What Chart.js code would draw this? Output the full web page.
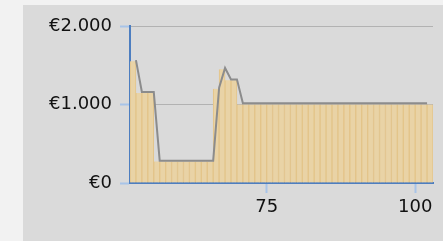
<!DOCTYPE html>
<html>
<head>
<meta charset="utf-8">
<script src="https://cdn.jsdelivr.net/npm/chart.js@4"></script>
<style>
  html, body { margin: 0; padding: 0; background: #f2f2f2; width: 443px; height: 241px; overflow: hidden; }
  #wrap { position: absolute; left: 23px; top: 5px; width: 420px; height: 236px; background: #dadada; }
  canvas { display: block; }
</style>
</head>
<body>
<div id="wrap"><canvas id="c" width="420" height="236"></canvas></div>
<script>
// Category positions (each bar spans the unit ending at its category)
const categories = [53,54,55,56,57,58,59,60,61,62,63,64,65,66,67,68,69,70,71,72,73,74,75,76,77,78,79,80,81,82,83,84,85,86,87,88,89,90,91,92,93,94,95,96,97,98,99,100,101,102,103];
// Bar series values (€)
const barValues = [1550,1145,1145,1145,275,275,275,275,275,275,275,275,275,275,1200,1450,1310,1310,1000,1000,1000,1000,1000,1000,1000,1000,1000,1000,1000,1000,1000,1000,1000,1000,1000,1000,1000,1000,1000,1000,1000,1000,1000,1000,1000,1000,1000,1000,1000,1000,1000];
// Line series values (€), no value at the last category
const lineValues = [1565,1160,1160,1160,285,285,285,285,285,285,285,285,285,285,1215,1465,1320,1320,1015,1015,1015,1015,1015,1015,1015,1015,1015,1015,1015,1015,1015,1015,1015,1015,1015,1015,1015,1015,1015,1015,1015,1015,1015,1015,1015,1015,1015,1015,1015,1015,null];
// Axis ticks
const yTicks = [0, 1000, 2000];
const xTicks = [75, 100];
const xMin = 52, xMax = 103;

const fmt = v => '€' + v.toLocaleString('de-DE');

const barData = categories.map((c, i) => ({ x: c - 0.5, y: barValues[i] }));
const lineData = categories.map((c, i) => ({ x: c, y: lineValues[i] })).filter(p => p.y !== null);

new Chart(document.getElementById('c'), {
  data: {
    datasets: [
      {
        type: 'line',
        data: lineData,
        borderColor: '#8c8c8c',
        borderWidth: 2,
        pointRadius: 0,
        tension: 0,
        fill: false,
        order: 0
      },
      {
        type: 'bar',
        data: barData,
        backgroundColor: '#e9d3a6',
        borderColor: '#e3c489',
        borderWidth: { left: 1, right: 1, top: 0, bottom: 0 },
        barPercentage: 1,
        categoryPercentage: 1,
        order: 1
      }
    ]
  },
  options: {
    responsive: false,
    animation: false,
    events: [],
    layout: { padding: { left: 0, top: 21, right: 10, bottom: 0 } },
    plugins: { legend: { display: false }, tooltip: { enabled: false } },
    scales: {
      x: {
        type: 'linear',
        min: xMin,
        max: xMax,
        offset: false,
        afterFit: s => { s.height = 58; },
        afterBuildTicks: s => { s.ticks = xTicks.map(v => ({ value: v })); },
        ticks: { font: { family: 'DejaVu Sans', size: 18 }, color: '#111', padding: 4, maxRotation: 0 },
        grid: { offset: false, drawOnChartArea: false, drawTicks: true, tickLength: 10, tickColor: '#a8c4e8', tickWidth: 2 },
        border: { color: '#4d7ec0', width: 2 }
      },
      y: {
        min: 0,
        max: 2000,
        afterFit: s => { s.width = 107; },
        afterBuildTicks: s => { s.ticks = yTicks.map(v => ({ value: v })); },
        ticks: { font: { family: 'DejaVu Sans', size: 18 }, color: '#111', padding: 8, callback: v => fmt(v) },
        grid: { color: '#b2b2b2', lineWidth: 1, tickLength: 10, tickColor: '#a8c4e8', tickWidth: 2 },
        border: { color: '#4d7ec0', width: 2 }
      }
    }
  }
});
</script>
</body>
</html>
